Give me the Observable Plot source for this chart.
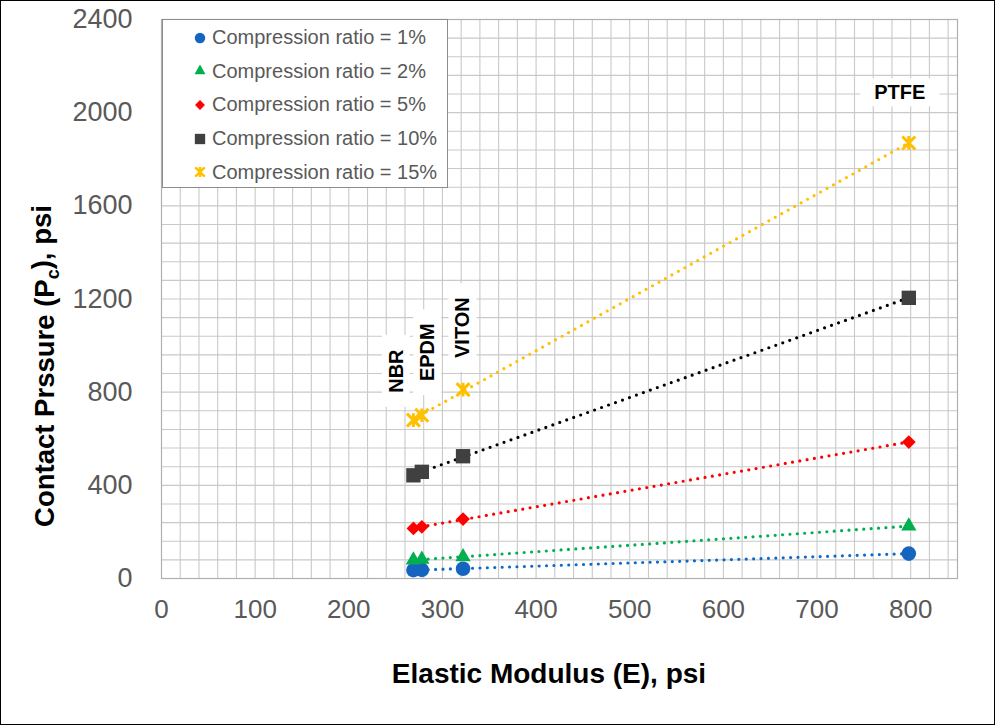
<!DOCTYPE html>
<html>
<head>
<meta charset="utf-8">
<script src="https://cdn.jsdelivr.net/npm/d3@7"></script>
<script src="https://cdn.jsdelivr.net/npm/@observablehq/plot@0.6"></script>
<style>
  body { margin: 0; background: #fff; }
  #chart { position: relative; width: 995px; height: 725px; overflow: hidden; font-family: "Liberation Sans", Arial, sans-serif; }
  #chart > svg { position: absolute; left: 0; top: 0; }
  #frame { position: absolute; left: 0; top: 0; width: 995px; height: 725px; box-sizing: border-box; border: 1.5px solid #000; pointer-events: none; }
  #legend { position: absolute; left: 162px; top: 19px; width: 286px; height: 169px; box-sizing: border-box; background: #fff; border: 1px solid #8c8c8c; }
  .entry { position: absolute; left: 25px; height: 24px; display: flex; align-items: center; font-size: 20px; color: #595959; white-space: nowrap; }
</style>
</head>
<body>
<div id="chart"></div>
<script>
// Gasket materials and their elastic modulus (psi)
const materials = ["NBR", "EPDM", "VITON", "PTFE"];
const modulus = [269, 278, 322, 798];

// Contact pressure (psi) for each compression ratio, per material
const ratioNames = ["Compression ratio = 1%", "Compression ratio = 2%", "Compression ratio = 5%", "Compression ratio = 10%", "Compression ratio = 15%"];
const pressure1 = [36, 37, 42, 107];
const pressure2 = [79, 82, 93, 225];
const pressure5 = [215, 222, 255, 586];
const pressure10 = [443, 458, 525, 1205];
const pressure15 = [680, 701, 811, 1870];

// Axis tick values
const xTicks = [0, 100, 200, 300, 400, 500, 600, 700, 800];
const yTicks = [0, 400, 800, 1200, 1600, 2000, 2400];

// An asterisk-style marker: an X crossed by a vertical bar
const starSymbol = {
  draw(context, size) {
    const r = Math.sqrt(size / Math.PI);
    context.moveTo(-r, -r); context.lineTo(r, r);
    context.moveTo(r, -r); context.lineTo(-r, r);
    context.moveTo(0, -r * 1.05); context.lineTo(0, r * 1.05);
  }
};

const seriesStyle = [
  { fill: "#1565C0", line: "#0E6AC8", symbol: d3.symbolCircle, r: 7.3 },
  { fill: "#00B050", line: "#00B050", symbol: d3.symbolTriangle, r: 5.7 },
  { fill: "#FF0000", line: "#FF0000", symbol: d3.symbolDiamond2, r: 6.2 },
  { fill: "#404040", line: "#000000", symbol: d3.symbolSquare, r: 8.1 },
  { fill: "#FFC000", line: "#FFC000", symbol: starSymbol, r: 6.5, stroked: true }
];

const seriesValues = [pressure1, pressure2, pressure5, pressure10, pressure15];
const rows = [];
seriesValues.forEach((vals, s) => vals.forEach((p, i) => rows.push({ material: materials[i], E: modulus[i], P: p, series: s })));

// Label offsets (px) from each material's 15% point
const labelOffsets = [
  { dx: -17, dy: -49, rotate: -90 },
  { dx: 6, dy: -63, rotate: -90 },
  { dx: 0, dy: -62, rotate: -90 },
  { dx: -9, dy: -50, rotate: 0 }
];

const marks = [
  Plot.ruleX(d3.range(20, 850, 20), { stroke: "#c9c9c9", strokeWidth: 1.1 }),
  Plot.ruleY(d3.range(80, 2400, 80), { stroke: "#c9c9c9", strokeWidth: 1.1 }),
  Plot.frame({ stroke: "#b0b0b0", strokeWidth: 1.2 })
];

materials.forEach((m, i) => {
  const o = labelOffsets[i];
  marks.push(Plot.text([i], {
    x: d => modulus[d], y: d => pressure15[d], text: d => materials[d],
    dx: o.dx, dy: o.dy, rotate: o.rotate,
    fontSize: 20, fontWeight: "bold", fill: "#000", textAnchor: "middle"
  }));
});

seriesStyle.forEach((st, s) => {
  marks.push(Plot.linearRegressionY(rows.filter(d => d.series === s), {
    x: "E", y: "P", ci: 0, stroke: st.line, strokeWidth: 3.2,
    strokeDasharray: "0 7.4", strokeLinecap: "round"
  }));
});

seriesStyle.forEach((st, s) => {
  const data = rows.filter(d => d.series === s);
  marks.push(st.stroked
    ? Plot.dot(data, { x: "E", y: "P", symbol: st.symbol, r: st.r, fill: "none", stroke: st.fill, strokeWidth: 3 })
    : Plot.dot(data, { x: "E", y: "P", symbol: st.symbol, r: st.r, fill: st.fill, stroke: "none" }));
});

marks.push(Plot.axisX({ ticks: xTicks, tickFormat: d => String(d), tickSize: 0, tickPadding: 21, fontSize: 26, fill: "#595959", label: null }));
marks.push(Plot.axisY({ ticks: yTicks, tickFormat: d => String(d), tickSize: 0, tickPadding: 29, fontSize: 27, fill: "#595959", label: null }));

const plot = Plot.plot({
  width: 995,
  height: 725,
  marginLeft: 161,
  marginRight: 38,
  marginTop: 19,
  marginBottom: 147,
  style: { fontFamily: "'Liberation Sans', Arial, sans-serif", background: "transparent", overflow: "visible" },
  x: { domain: [0, 850] },
  y: { domain: [0, 2400] },
  marks
});

const chart = document.getElementById("chart");
chart.appendChild(plot);

const svg = d3.select(plot);

// White boxes behind the material labels
svg.selectAll('g[aria-label="text"] text').each(function () {
  const b = this.getBBox();
  const padAlong = 14, padAcross = 3;
  d3.select(this.parentNode).insert("rect", () => this)
    .attr("x", b.x - padAlong).attr("y", b.y - padAcross)
    .attr("width", b.width + 2 * padAlong).attr("height", b.height + 2 * padAcross)
    .attr("transform", this.getAttribute("transform"))
    .attr("fill", "#fff");
});

// Axis titles
svg.append("text")
  .attr("x", 549).attr("y", 673).attr("dy", "0.35em")
  .attr("text-anchor", "middle")
  .attr("font-size", 28).attr("font-weight", "bold").attr("fill", "#000")
  .text("Elastic Modulus (E), psi");

const yTitle = svg.append("text")
  .attr("transform", "translate(44,366) rotate(-90)")
  .attr("dy", "0.35em")
  .attr("text-anchor", "middle")
  .attr("font-size", 27.5).attr("font-weight", "bold").attr("fill", "#000");
yTitle.append("tspan").text("Contact Prssure (P");
yTitle.append("tspan").attr("font-size", 18).attr("dy", "0.3em").text("c");
yTitle.append("tspan").attr("dy", "-0.3em").text("), psi");

// Legend
const legend = document.createElement("div");
legend.id = "legend";
chart.appendChild(legend);
seriesStyle.forEach((st, s) => {
  const entry = document.createElement("div");
  entry.className = "entry";
  entry.style.top = (5.7 + s * 33.6) + "px";
  const icon = d3.create("svg").attr("width", 24).attr("height", 24);
  const k = 0.72 * st.r;
  const path = d3.symbol(st.symbol, Math.PI * k * k)();
  const p = icon.append("path").attr("d", path).attr("transform", "translate(12,12)");
  if (st.stroked) p.attr("fill", "none").attr("stroke", st.fill).attr("stroke-width", 2.5);
  else p.attr("fill", st.fill);
  entry.appendChild(icon.node());
  const label = document.createElement("span");
  label.textContent = ratioNames[s];
  entry.appendChild(label);
  legend.appendChild(entry);
});

const frame = document.createElement("div");
frame.id = "frame";
chart.appendChild(frame);
</script>
</body>
</html>
